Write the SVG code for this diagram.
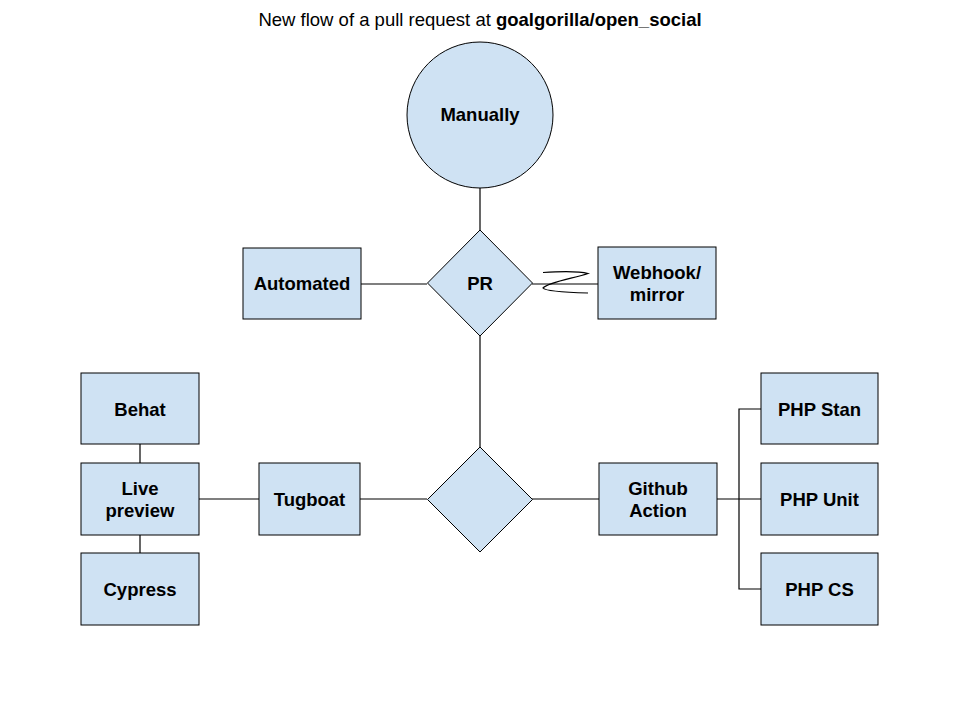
<svg xmlns="http://www.w3.org/2000/svg" width="960" height="720" viewBox="0 0 960 720">
<style>
.n{fill:#cfe2f3;stroke:#000;stroke-width:1}
.t{font-family:"Liberation Sans",Arial,sans-serif;font-size:18.5px;font-weight:bold;text-anchor:middle;fill:#000}
.c{fill:none;stroke:#000;stroke-width:1.2}
</style>
<rect width="960" height="720" fill="#fff"/>
<text x="480" y="26" style="font-family:'Liberation Sans',Arial,sans-serif;font-size:18.5px;text-anchor:middle;fill:#000">New flow of a pull request at <tspan font-weight="bold">goalgorilla/open_social</tspan></text>
<g id="connectors">
<line class="c" x1="480" y1="188" x2="480" y2="230"/>
<line class="c" x1="361" y1="284" x2="427" y2="284"/>
<line class="c" x1="532" y1="284" x2="598" y2="284"/>
<path class="c" d="M543,272.5 C560,271.5 578,271 588,273.5 C575,278 548,282 543,288 C545,291 570,292.5 588,293"/>
<line class="c" x1="480" y1="336" x2="480" y2="447"/>
<line class="c" x1="360" y1="499" x2="427" y2="499"/>
<line class="c" x1="532" y1="499" x2="599" y2="499"/>
<line class="c" x1="199" y1="499" x2="259" y2="499"/>
<line class="c" x1="140" y1="444" x2="140" y2="463"/>
<line class="c" x1="140" y1="535" x2="140" y2="553"/>
<line class="c" x1="717" y1="499" x2="761" y2="499"/>
<path class="c" d="M761,409 H739 V589 H761"/>
</g>
<g id="manually"><circle class="n" cx="480" cy="115" r="73"/><text class="t" x="480" y="121">Manually</text></g>
<g id="pr"><polygon class="n" points="480,230 532.5,283 480,336 427.5,283"/><text class="t" x="480" y="290">PR</text></g>
<g id="automated"><rect class="n" x="243" y="248" width="118" height="71"/><text class="t" x="302" y="290">Automated</text></g>
<g id="webhook"><rect class="n" x="598" y="247" width="118" height="72"/><text class="t" x="657" y="279">Webhook/</text><text class="t" x="657" y="301">mirror</text></g>
<g id="split"><polygon class="n" points="480,447 532.5,499.5 480,552 427.5,499.5"/></g>
<g id="tugboat"><rect class="n" x="259" y="463" width="101" height="72"/><text class="t" x="309.5" y="506">Tugboat</text></g>
<g id="livepreview"><rect class="n" x="81" y="463" width="118" height="72"/><text class="t" x="140" y="495">Live</text><text class="t" x="140" y="517">preview</text></g>
<g id="behat"><rect class="n" x="81" y="373" width="118" height="71"/><text class="t" x="140" y="416">Behat</text></g>
<g id="cypress"><rect class="n" x="81" y="553" width="118" height="72"/><text class="t" x="140" y="596">Cypress</text></g>
<g id="github"><rect class="n" x="599" y="463" width="118" height="72"/><text class="t" x="658" y="495">Github</text><text class="t" x="658" y="517">Action</text></g>
<g id="phpstan"><rect class="n" x="761" y="373" width="117" height="71"/><text class="t" x="819.5" y="416">PHP Stan</text></g>
<g id="phpunit"><rect class="n" x="761" y="463" width="117" height="72"/><text class="t" x="819.5" y="506">PHP Unit</text></g>
<g id="phpcs"><rect class="n" x="761" y="553" width="117" height="72"/><text class="t" x="819.5" y="596">PHP CS</text></g>
</svg>
